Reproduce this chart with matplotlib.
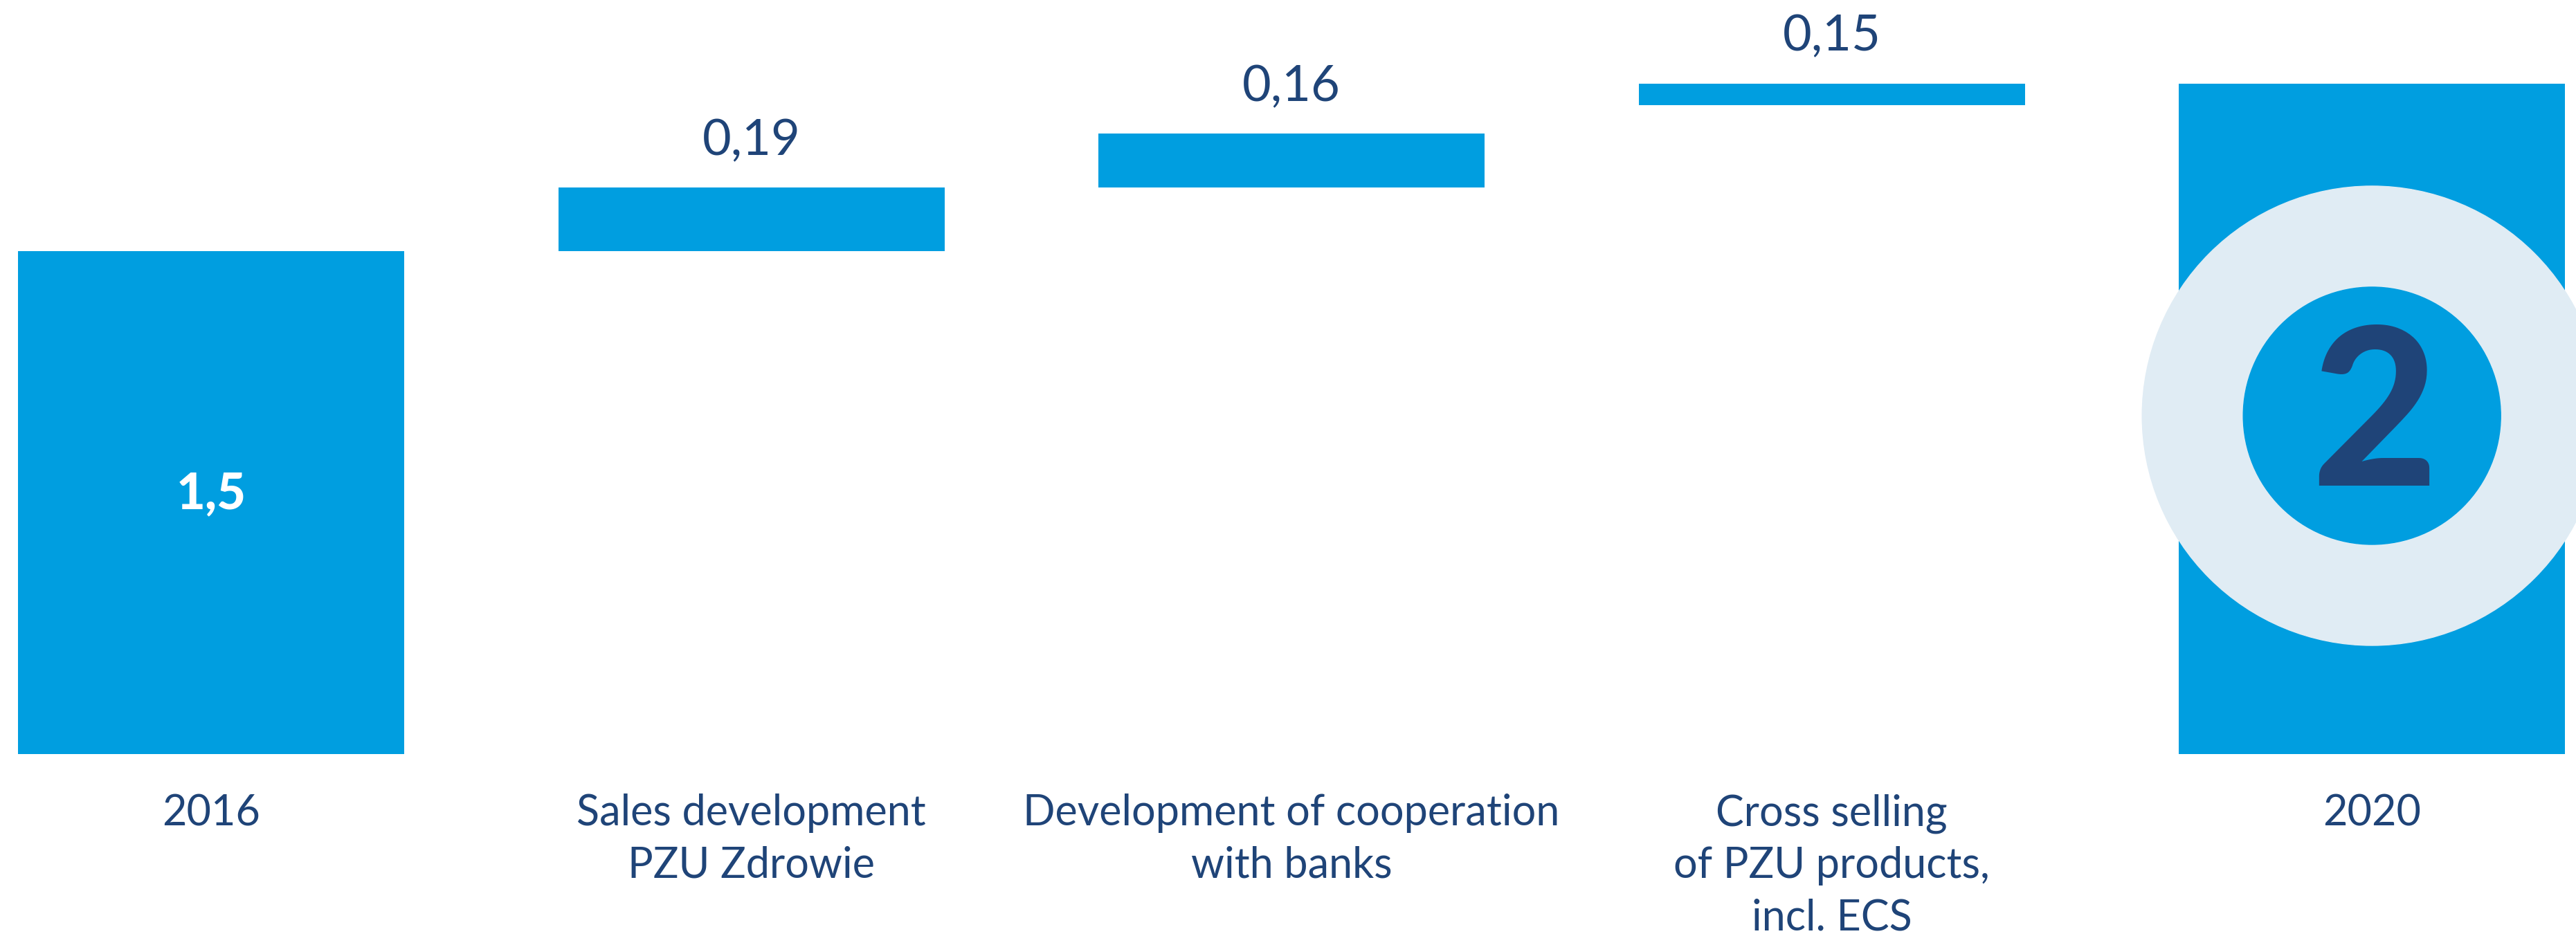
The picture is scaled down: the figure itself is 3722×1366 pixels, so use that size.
import matplotlib.pyplot as plt
import numpy as np
from matplotlib.patches import Ellipse

# %%
categories = [
    "2016",
    "Sales development\nPZU Zdrowie",
    "Development of cooperation\nwith banks",
    "Cross selling\nof PZU products,\nincl. ECS",
    "2020",
]
value_labels = ["1,5", "0,19", "0,16", "0,15", "2"]
values = [1.5, 0.19, 0.16, 0.15]
total_2020 = 2.0
# bar thickness as drawn in the picture (last step is drawn thinner than its value)
drawn_heights = [1.5, 0.19, 0.16, 0.065, 2.0]

bar_color = "#009EE0"
text_color = "#1F4478"
ring_color = "#E0ECF4"

# %%
tops = list(np.cumsum(values)) + [total_2020]
tops[3] = total_2020
bottoms = [t - h for t, h in zip(tops, drawn_heights)]
x = np.arange(len(categories))

fig = plt.figure(figsize=(37.23, 13.66), dpi=100)
ax = fig.add_axes([0, 0, 1, 1])
ax.bar(x, drawn_heights, bottom=bottoms, width=0.715, color=bar_color)
ax.set_xlim(-0.391, 4.379)
ax.set_ylim(-0.5695, 2.249)
ax.axis("off")

# labels under the bars
for xi, cat in zip(x, categories):
    ax.text(xi, -0.118, cat, ha="center", va="top", fontsize=44,
            family="Lato", color=text_color, linespacing=1.4)

# starting value inside the first bar
ax.text(x[0], 0.775, value_labels[0], ha="center", va="center", fontsize=52,
        family="Lato", fontweight="black", color="white")

# step values above the floating bars
for i in range(1, 4):
    ax.text(x[i], tops[i] + 0.097, value_labels[i], ha="center", va="baseline",
            fontsize=52, family="Lato", color=text_color)

# ring with the final value on the 2020 bar
px_x = 780.5
px_y = 484.6
cy = 1.009
ax.add_patch(Ellipse((x[4], cy), 2 * 332 / px_x, 2 * 332 / px_y,
                     color=ring_color, zorder=3))
ax.add_patch(Ellipse((x[4], cy), 2 * 186 / px_x, 2 * 186 / px_y,
                     color=bar_color, zorder=4))
ax.text(x[4] + 0.005, cy - 0.02, value_labels[4], ha="center", va="center",
        fontsize=228, family="Lato", fontweight="black", color=text_color,
        zorder=5)

fig.savefig("out.png", dpi=100)
